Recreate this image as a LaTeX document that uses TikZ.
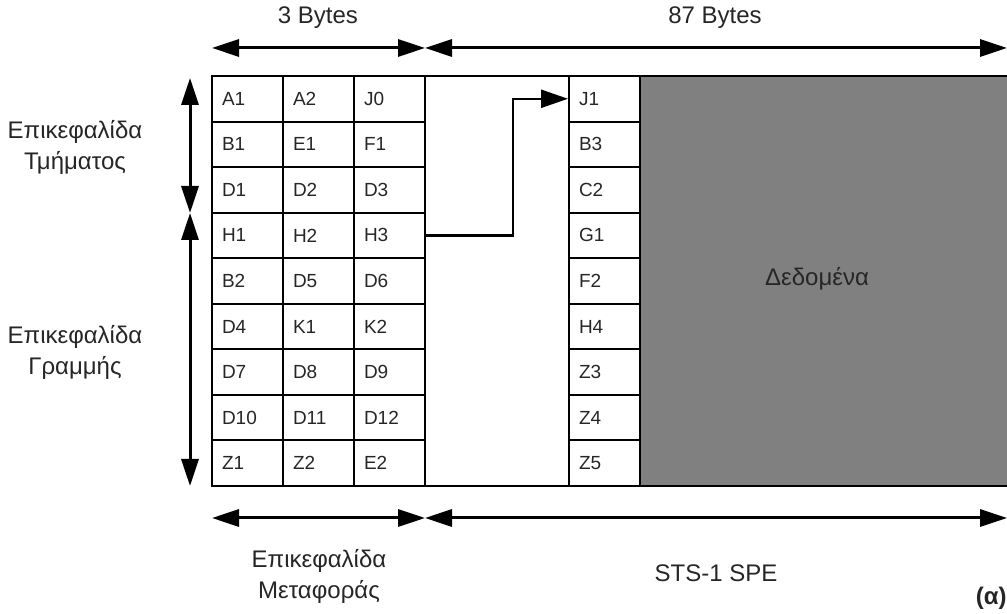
\documentclass[tikz,border=0pt]{standalone}
\usepackage{fontspec}
\setmainfont{Liberation Sans}
\usetikzlibrary{arrows.meta, positioning, calc}

\definecolor{datagray}{HTML}{808080}

\begin{document}
\begin{tikzpicture}[x=0.5pt, y=-0.5pt,
  cell/.style={draw, line width=1pt, minimum width=35.5pt, minimum height=22.78pt,
    inner sep=0pt, text width=25.5pt, align=left, text=black!85, font=\fontsize{9.5}{11}\selectfont},
  dimarrow/.style={line width=1.5pt, {Triangle[length=13.5pt,width=8.5pt]}-{Triangle[length=13.5pt,width=8.5pt]}},
  conn/.style={line width=1.2pt, -{Triangle[length=13.5pt,width=9pt]}},
  lbl/.style={align=center, text=black!85, font=\fontsize{12}{15.5}\selectfont}]
    \useasboundingbox (0,0) rectangle (1007,614);

    % payload area
    \fill[datagray] (640,76) rectangle (1007,486);
    \draw[line width=1pt] (212,76) -- (1007,76);
    \draw[line width=1pt] (212,486) -- (1007,486);
    \draw[line width=1pt] (640,76) -- (640,486);

    % overhead bytes
    \foreach \a/\b/\c/\d [count=\i] in {A1/A2/J0/J1, B1/E1/F1/B3, D1/D2/D3/C2,
        H1/H2/H3/G1, B2/D5/D6/F2, D4/K1/K2/H4, D7/D8/D9/Z3, D10/D11/D12/Z4, Z1/Z2/E2/Z5} {
        \node[cell] (ta\i) at (247.5, {76+45.56*(\i-0.5)}) {\a};
        \node[cell] (tb\i) at (318.5, {76+45.56*(\i-0.5)}) {\b};
        \node[cell] (tc\i) at (389.5, {76+45.56*(\i-0.5)}) {\c};
        \node[cell] (po\i) at (604.5, {76+45.56*(\i-0.5)}) {\d};
    }

    \node[lbl] (data) at (817,279) {Δεδομένα};

    % pointer H1-H3 to J1
    \draw[conn] (tc4.east) -- ++(87,0) |- (po1.west);

    % dimensions
    \coordinate (tl) at (212,48);
    \coordinate (tm) at (425,48);
    \coordinate (tr) at (1007,48);
    \coordinate (bl) at (212,518);
    \coordinate (bm) at (425,518);
    \coordinate (br) at (1007,518);
    \coordinate (lt) at (190,78);
    \coordinate (lm) at (190,213);
    \coordinate (lb) at (190,486);
    \draw[dimarrow] (tl) -- (tm);
    \draw[dimarrow] (tm) -- (tr);
    \draw[dimarrow] (bl) -- (bm);
    \draw[dimarrow] (bm) -- (br);
    \draw[dimarrow] (lt) -- (lm);
    \draw[dimarrow] (lm) -- (lb);

    \node[lbl] (bytes3) at (318,18) {3 Bytes};
    \node[lbl] (bytes87) at (715,18) {87 Bytes};
    \node[lbl] (soh) at (75,147) {Επικεφαλίδα\\Τμήματος};
    \node[lbl] (loh) at (75,352) {Επικεφαλίδα\\Γραμμής};
    \node[lbl] (toh) at (319,576) {Επικεφαλίδα\\Μεταφοράς};
    \node[lbl] (spe) at (716,573) {STS-1 SPE};
    \node[lbl, font=\bfseries\fontsize{12}{14}\selectfont, anchor=east, inner sep=0pt] (alpha) at (1007,598) {(α)};
\end{tikzpicture}
\end{document}
